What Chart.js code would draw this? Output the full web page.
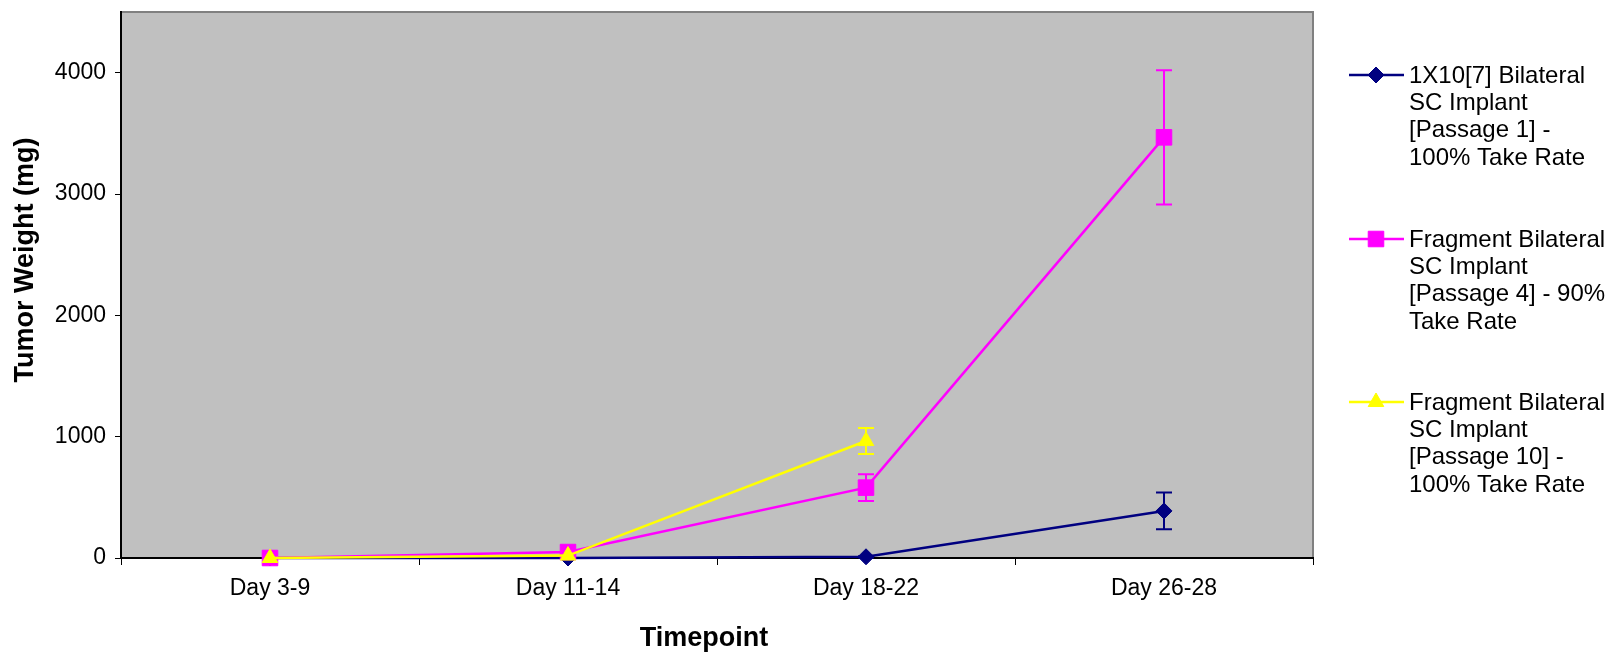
<!DOCTYPE html>
<html>
<head>
<meta charset="utf-8">
<script src="https://cdn.jsdelivr.net/npm/chart.js@4.4.1/dist/chart.umd.min.js"></script>
<style>
  html, body { margin: 0; padding: 0; background: #ffffff; }
  #wrap { width: 1616px; height: 653px; position: relative; }
</style>
</head>
<body>
<div id="wrap"><canvas id="c" width="1616" height="653"></canvas></div>
<script>
// ---- data ----
const categories = ['Day 3-9', 'Day 11-14', 'Day 18-22', 'Day 26-28'];
const seriesNames = [
  ['1X10[7] Bilateral', 'SC Implant', '[Passage 1] -', '100% Take Rate'],
  ['Fragment Bilateral', 'SC Implant', '[Passage 4] - 90%', 'Take Rate'],
  ['Fragment Bilateral', 'SC Implant', '[Passage 10] -', '100% Take Rate']
];
const passage1Values = [0, 0, 10, 388];
const passage1Errors = [0, 0, 5, 152];
const passage4Values = [0, 49, 580, 3467];
const passage4Errors = [0, 5, 110, 553];
const passage10Values = [0, 20, 964, null];
const passage10Errors = [0, 0, 107, null];
const yTicks = [0, 1000, 2000, 3000, 4000];
const yMax = 4500;

const colors = ['#000080', '#FF00FF', '#FFFF00'];
const markers = ['rectRot', 'rect', 'triangle'];
const markerRadius = [8, 11, 9];
const errorSets = [passage1Errors, passage4Errors, passage10Errors];

const FONT = 'Arial, "Liberation Sans", Helvetica, sans-serif';
const noPad = () => ({ left: 0, top: 0, right: 0, bottom: 0 });

const plotBg = {
  id: 'plotBg',
  beforeDraw(chart) {
    const { ctx, chartArea: a } = chart;
    ctx.save();
    ctx.fillStyle = '#C0C0C0';
    ctx.fillRect(a.left, a.top, a.right - a.left, a.bottom - a.top);
    ctx.strokeStyle = '#808080';
    ctx.lineWidth = 2;
    ctx.beginPath();
    ctx.moveTo(a.left, a.top);
    ctx.lineTo(a.right, a.top);
    ctx.lineTo(a.right, a.bottom);
    ctx.stroke();
    ctx.restore();
  }
};

const errorBars = {
  id: 'errorBars',
  afterDatasetDraw(chart, args) {
    const i = args.index;
    const errs = errorSets[i];
    const ds = chart.data.datasets[i];
    const xs = chart.scales.x, ys = chart.scales.y;
    const ctx = chart.ctx;
    ctx.save();
    ctx.strokeStyle = colors[i];
    ctx.lineWidth = 2;
    ds.data.forEach((v, j) => {
      const e = errs[j];
      if (v === null || !e) return;
      const x = xs.getPixelForValue(j);
      const yt = ys.getPixelForValue(v + e);
      const yb = ys.getPixelForValue(v - e);
      ctx.beginPath();
      ctx.moveTo(x, yt); ctx.lineTo(x, yb);
      ctx.moveTo(x - 8, yt); ctx.lineTo(x + 8, yt);
      ctx.moveTo(x - 8, yb); ctx.lineTo(x + 8, yb);
      ctx.stroke();
    });
    ctx.restore();
  }
};

const customText = {
  id: 'customText',
  afterDraw(chart) {
    const ctx = chart.ctx;
    ctx.save();
    // axis titles
    ctx.fillStyle = '#000';
    ctx.font = 'bold 27px ' + FONT;
    ctx.textAlign = 'center';
    ctx.textBaseline = 'alphabetic';
    ctx.fillText('Timepoint', 704, 646);
    ctx.translate(33, 260);
    ctx.rotate(-Math.PI / 2);
    ctx.fillText('Tumor Weight (mg)', 0, 0);
    ctx.restore();

    // legend
    ctx.save();
    const itemTops = [75, 239, 402];
    const lineH = 27.3;
    chart.data.datasets.forEach((ds, i) => {
      const y = itemTops[i];
      ctx.strokeStyle = colors[i];
      ctx.lineWidth = 2.5;
      ctx.beginPath();
      ctx.moveTo(1349, y); ctx.lineTo(1404, y);
      ctx.stroke();
      ctx.fillStyle = colors[i];
      ctx.strokeStyle = colors[i];
      ctx.lineWidth = 1;
      Chart.helpers.drawPoint(ctx, {
        pointStyle: markers[i], radius: markerRadius[i], borderWidth: 1
      }, 1376, y);
      ctx.fillStyle = '#000';
      ctx.font = '24px ' + FONT;
      ctx.textAlign = 'left';
      ctx.textBaseline = 'middle';
      seriesNames[i].forEach((t, k) => ctx.fillText(t, 1409, y + k * lineH + 1));
    });
    ctx.restore();
  }
};

const mkDs = (label, data, i) => ({
  label: label.join(' '),
  data,
  borderColor: colors[i],
  backgroundColor: colors[i],
  borderWidth: 2.5,
  pointStyle: markers[i],
  pointRadius: markerRadius[i],
  pointHoverRadius: markerRadius[i],
  pointBorderWidth: 1,
  pointBorderColor: colors[i],
  pointBackgroundColor: colors[i],
  tension: 0,
  spanGaps: false,
  clip: false,
  order: 2 - i
});

new Chart(document.getElementById('c'), {
  type: 'line',
  data: {
    labels: categories,
    datasets: [
      mkDs(seriesNames[0], passage1Values, 0),
      mkDs(seriesNames[1], passage4Values, 1),
      mkDs(seriesNames[2], passage10Values, 2)
    ]
  },
  options: {
    responsive: false,
    animation: false,
    devicePixelRatio: 1,
    layout: { padding: { left: 0, top: 9, right: 303, bottom: 0 } },
    plugins: { legend: { display: false }, tooltip: { enabled: false } },
    scales: {
      x: {
        type: 'category',
        offset: true,
        grid: { offset: true, drawOnChartArea: false, drawTicks: true, tickLength: 7, color: '#000', tickWidth: 1 },
        border: { display: true, color: '#000', width: 2 },
        ticks: { color: '#000', font: { family: FONT, size: 23 }, padding: 10, maxRotation: 0, autoSkip: false },
        afterFit(s) { s.height = 95; s.paddingLeft = 0; s.paddingRight = 0; s.getPadding = noPad; }
      },
      y: {
        type: 'linear',
        min: 0,
        max: yMax,
        afterBuildTicks(s) { s.ticks = yTicks.map(v => ({ value: v })); },
        grid: { drawOnChartArea: false, drawTicks: true, tickLength: 6, color: '#000', tickWidth: 1 },
        border: { display: true, color: '#000', width: 2 },
        ticks: { color: '#000', font: { family: FONT, size: 23 }, padding: 9, callback: (v) => String(v) },
        afterFit(s) { s.width = 121; s.paddingTop = 0; s.paddingBottom = 0; s.getPadding = noPad; }
      }
    }
  },
  plugins: [plotBg, errorBars, customText]
});
</script>
</body>
</html>
